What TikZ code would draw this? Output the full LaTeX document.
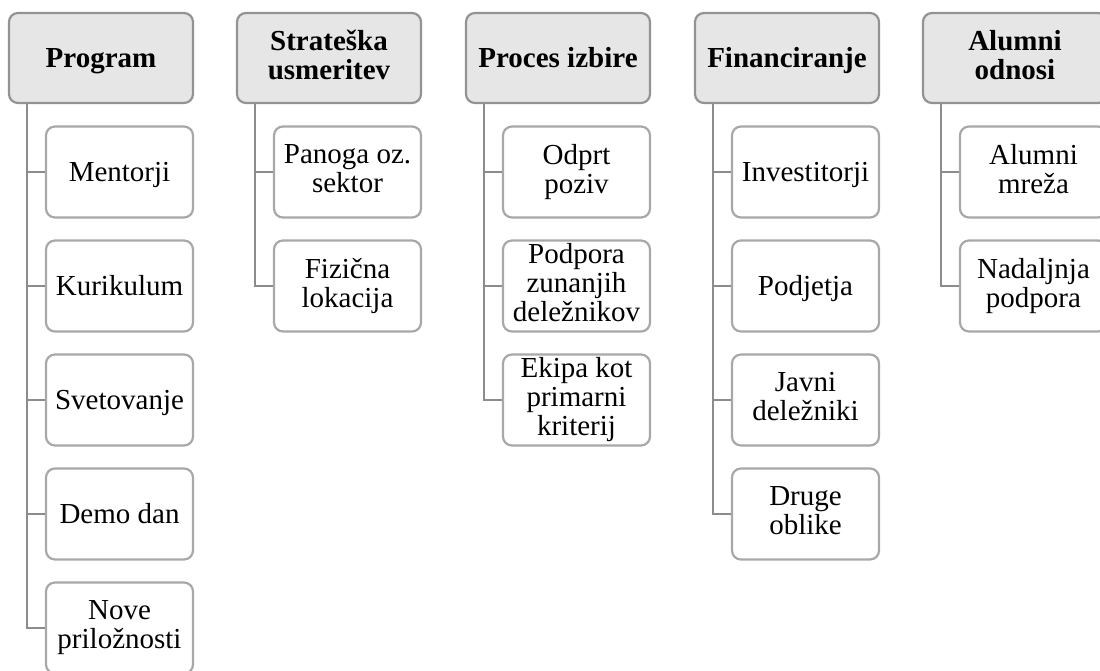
\documentclass[tikz,border=0pt]{standalone}
\usepackage{fontspec}
\setmainfont{Liberation Serif}
\definecolor{headfill}{HTML}{E6E6E6}
\definecolor{headline}{HTML}{939393}
\definecolor{leafline}{HTML}{A8A8A8}
\definecolor{connline}{HTML}{8C8C8C}
% struts giving each text block the font's full ascent and descent,
% so labels sit centred the way word-processor shapes centre them
\newcommand{\topstrut}{\rule{0pt}{0.891em}}
\newcommand{\botstrut}{\rule[-0.216em]{0pt}{0pt}}
\tikzset{
  boxtext/.style={align=center, inner sep=0pt,
    execute at begin node=\topstrut, execute at end node=\botstrut},
  head/.style={boxtext, draw=headline, fill=headfill, line width=2.2pt, rounded corners=9pt,
    minimum width=184pt, minimum height=90pt,
    font=\fontsize{29}{29}\selectfont\bfseries},
  leaf/.style={boxtext, draw=leafline, fill=white, line width=2.2pt, rounded corners=9pt,
    minimum width=147pt, minimum height=91pt,
    font=\fontsize{29}{29}\selectfont},
  conn/.style={draw=connline, line width=2.2pt}
}
\begin{document}
\begin{tikzpicture}[x=1pt,y=-1pt]
\useasboundingbox (0,0) rectangle (1100,670);
\fill[white] (0,0) rectangle (1100,670);
% column headers
\node[head] (h1) at (101,58)  {Program};
\node[head] (h2) at (329,58)  {Strateška\\usmeritev};
\node[head] (h3) at (558,58)  {Proces izbire};
\node[head] (h4) at (787,58)  {Financiranje};
\node[head] (h5) at (1015,58) {Alumni\\odnosi};
% Program
\node[leaf] (a1) at (119.5,172) {Mentorji};
\node[leaf] (a2) at (119.5,286) {Kurikulum};
\node[leaf] (a3) at (119.5,400) {Svetovanje};
\node[leaf] (a4) at (119.5,514) {Demo dan};
\node[leaf] (a5) at (119.5,628) {Nove\\priložnosti};
% Strateška usmeritev
\node[leaf] (b1) at (347.5,172) {Panoga oz.\\sektor};
\node[leaf] (b2) at (347.5,286) {Fizična\\lokacija};
% Proces izbire
\node[leaf] (c1) at (576.5,172) {Odprt\\poziv};
\node[leaf] (c2) at (576.5,286) {Podpora\\zunanjih\\deležnikov};
\node[leaf] (c3) at (576.5,400) {Ekipa kot\\primarni\\kriterij};
% Financiranje
\node[leaf] (d1) at (805.5,172) {Investitorji};
\node[leaf] (d2) at (805.5,286) {Podjetja};
\node[leaf] (d3) at (805.5,400) {Javni\\deležniki};
\node[leaf] (d4) at (805.5,514) {Druge\\oblike};
% Alumni odnosi
\node[leaf] (e1) at (1033.5,172) {Alumni\\mreža};
\node[leaf] (e2) at (1033.5,286) {Nadaljnja\\podpora};
% connectors from each header down to its items
\foreach \h/\items in {h1/{a1,a2,a3,a4,a5}, h2/{b1,b2}, h3/{c1,c2,c3}, h4/{d1,d2,d3,d4}, h5/{e1,e2}}{
  \foreach \c in \items {
    \draw[conn] ([xshift=19pt]\h.south west) |- (\c.west);
  }
}
\end{tikzpicture}
\end{document}
